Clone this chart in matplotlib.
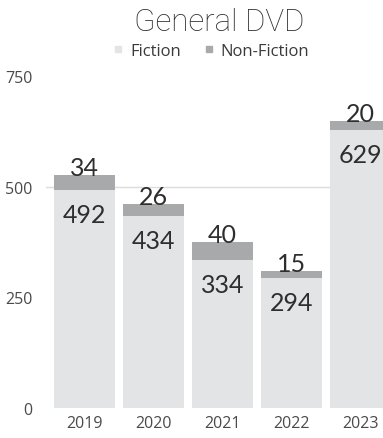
import matplotlib.pyplot as plt
from matplotlib.lines import Line2D

# Circulation of general DVDs per year
years = ['2019', '2020', '2021', '2022', '2023']
fiction = [492, 434, 334, 294, 629]
non_fiction = [34, 26, 40, 15, 20]

color_fic = '#e3e4e5'
color_non = '#a8a9aa'

fig = plt.figure(figsize=(3.83, 4.39), dpi=100)
ax = fig.add_axes([0.1214, 0.0683, 0.8786, 0.7563])

x = range(len(years))
totals = [f + n for f, n in zip(fiction, non_fiction)]

ax.axhline(500, color='#dcdcdc', linewidth=1, zorder=0)
ax.bar(x, fiction, width=0.88, color=color_fic, zorder=2)
ax.bar(x, non_fiction, bottom=fiction, width=0.88, color=color_non, zorder=2)

for i in x:
    ax.annotate(str(non_fiction[i]), xy=(i, totals[i]), xytext=(0, 0),
                textcoords='offset pixels', ha='center', va='baseline',
                fontsize=18, color='#2e2e2e', family='Lato', zorder=3)
    ax.annotate(str(fiction[i]), xy=(i, fiction[i]), xytext=(0, -13),
                textcoords='offset pixels', ha='center', va='top',
                fontsize=18, color='#2e2e2e', family='Lato', zorder=3)

ax.set_xlim(-0.55, 4.326)
ax.set_ylim(0, 750)
ax.set_yticks([0, 250, 500, 750])
ax.set_xticks(list(x))
ax.set_xticklabels(years)
ax.tick_params(axis='both', length=0, labelsize=11.5, colors='#4a4a4a')
ax.tick_params(axis='y', pad=10)
ax.tick_params(axis='x', pad=5)
for lbl in ax.get_xticklabels() + ax.get_yticklabels():
    lbl.set_family('Open Sans')
for s in ax.spines.values():
    s.set_visible(False)

fig.text(0.572, 0.948, 'General DVD', ha='center', va='center',
         fontsize=22.5, color='#2e2e2e', family='Roboto', fontweight='light')

handles = [Line2D([], [], marker='s', linestyle='none', markersize=4, color=color_fic),
           Line2D([], [], marker='s', linestyle='none', markersize=4, color=color_non)]
fig.legend(handles, ['Fiction', 'Non-Fiction'], loc='center',
           bbox_to_anchor=(0.552, 0.882), ncol=2, frameon=False,
           handlelength=0.6, handletextpad=0.4, columnspacing=1.4,
           prop={'family': 'Open Sans', 'size': 12}, labelcolor='#3a3a3a')

fig.savefig('out.png', dpi=100)
